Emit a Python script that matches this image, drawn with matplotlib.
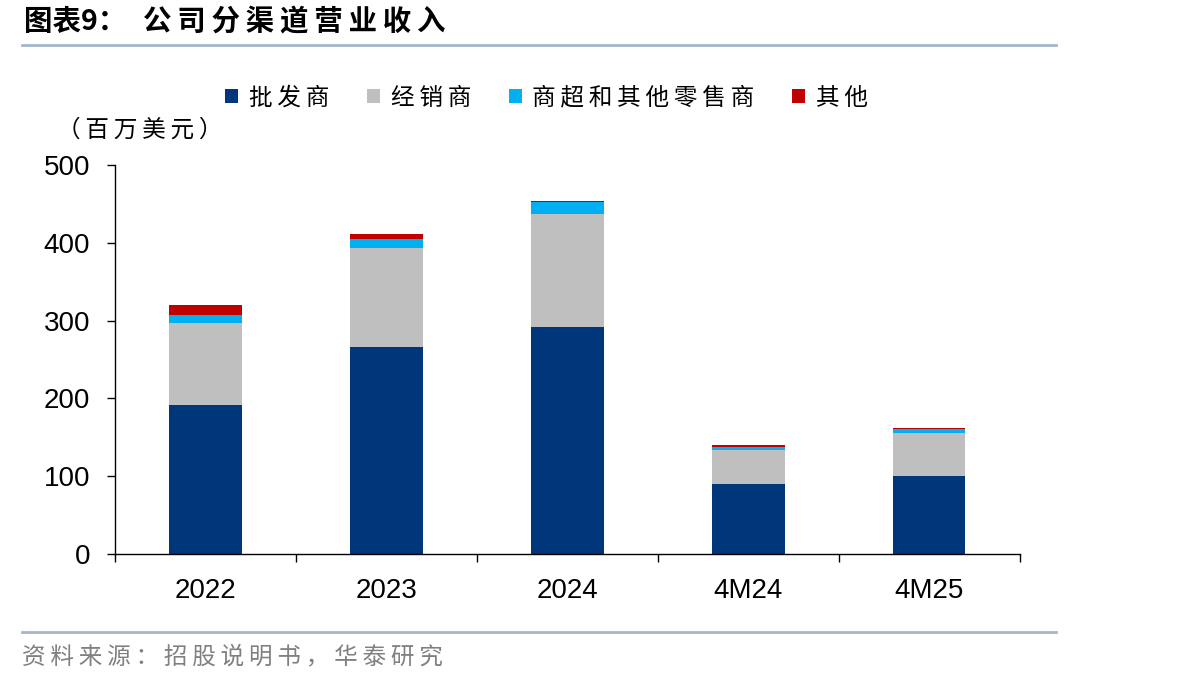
import matplotlib
matplotlib.use("Agg")
import matplotlib.pyplot as plt
import numpy as np
from matplotlib.lines import Line2D
from matplotlib.patches import Patch

plt.rcParams['font.family'] = ['Noto Sans CJK SC', 'DejaVu Sans']

# data (百万美元)
categories = ["2022", "2023", "2024", "4M24", "4M25"]
wholesale = [191, 266, 292, 90, 100]      # 批发商
distributor = [106, 127, 145, 44, 55]     # 经销商
retail = [10, 12, 15, 4, 5.5]             # 商超和其他零售商
other = [13, 6, 2, 2, 1]                  # 其他
series_names = ["批发商", "经销商", "商超和其他零售商", "其他"]
colors = ["#00377A", "#BFBFBF", "#00B0F0", "#C00000"]

THIN = "\u2009"


def spaced(s, n=1):
    # letter spacing via thin spaces (falls back to DejaVu Sans)
    return (THIN * n).join(s)


fig = plt.figure(figsize=(12.04, 6.86), dpi=100)
ax = fig.add_axes([0.0955, 0.1924, 0.7515, 0.5671])

x = np.arange(len(categories))
bottom = np.zeros(len(categories))
for vals, c in zip([wholesale, distributor, retail, other], colors):
    ax.bar(x, vals, width=0.4, bottom=bottom, color=c, zorder=2)
    bottom += np.array(vals)

ax.set_xlim(-0.5, len(categories) - 0.5)
ax.set_ylim(0, 500)
ax.set_yticks(range(0, 501, 100))
ax.set_xticks(x)
ax.set_xticklabels(categories)
ax.set_xticks(np.arange(-0.5, len(categories), 1), minor=True)
ax.tick_params(axis='x', which='major', length=0, pad=17, labelsize=20)
ax.tick_params(axis='x', which='minor', length=6, width=1, direction='out')
ax.tick_params(axis='y', length=6, width=1, direction='out', labelsize=20, pad=12)
for lab in ax.get_xticklabels() + ax.get_yticklabels():
    lab.set_family(['Liberation Sans', 'DejaVu Sans'])
for s in ['top', 'right']:
    ax.spines[s].set_visible(False)
for s in ['left', 'bottom']:
    ax.spines[s].set_linewidth(1)

# legend
handles = [Patch(facecolor=c, edgecolor='none') for c in colors]
fig.legend(handles, [spaced(n) for n in series_names], loc='center',
           bbox_to_anchor=(0.454, 0.857), ncol=4, frameon=False, fontsize=17,
           handlelength=0.55, handleheight=0.55, handletextpad=0.45,
           columnspacing=1.6)

fig.text(0.047, 0.81, spaced("（百万美元）"), fontsize=17, va='center', ha='left')

# title and rules
fig.text(24 / 1204, 0.968, "图表9：", fontsize=20.5,
         fontweight='bold', va='center', ha='left')
fig.text(143 / 1204, 0.968, spaced("公司分渠道营业收入"), fontsize=20.5,
         fontweight='bold', va='center', ha='left')
fig.add_artist(Line2D([0.018, 0.877], [0.935, 0.935], color='#A5B7CC', lw=2,
                      transform=fig.transFigure))
fig.add_artist(Line2D([0.018, 0.877], [0.079, 0.079], color='#A5B7CC', lw=2,
                      transform=fig.transFigure))
fig.text(0.018, 0.043, spaced("资料来源：招股说明书，华泰研究"), fontsize=17,
         color='#808080', va='center', ha='left')

fig.savefig("out.png", dpi=100)
